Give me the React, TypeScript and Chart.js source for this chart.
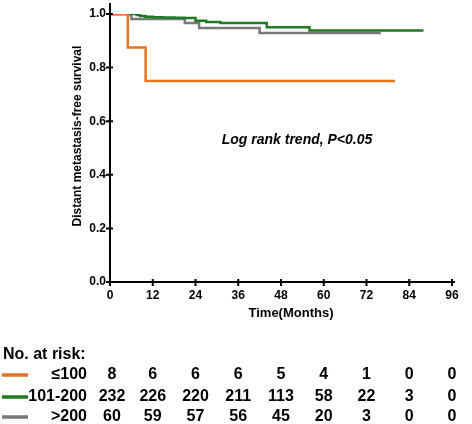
import React, { useEffect, useRef } from "react";
import { Chart, registerables } from "chart.js";

Chart.register(...registerables);

const FONT = "'Liberation Sans', Arial, sans-serif";

const xTicks = [0, 12, 24, 36, 48, 60, 72, 84, 96];
const yTicks = [0, 0.2, 0.4, 0.6, 0.8, 1.0];

const groupLabels = ["≤100", "101-200", ">200"];
const groupColors = ["#E8731F", "#1F7A24", "#787878"];

const lowTimes = [0, 5, 10, 80];
const lowSurv = [1, 0.875, 0.75, 0.75];
const midTimes = [0, 7.5, 8.5, 10, 12, 15, 18, 21, 24, 27, 31, 44, 56, 88];
const midSurv = [1, 0.996, 0.993, 0.99, 0.988, 0.987, 0.986, 0.985, 0.975, 0.97, 0.966, 0.951, 0.938, 0.938];
const highTimes = [0, 6, 21, 25, 42, 76];
const highSurv = [1, 0.981, 0.966, 0.948, 0.929, 0.929];

const riskLow = [8, 6, 6, 6, 5, 4, 1, 0, 0];
const riskMid = [232, 226, 220, 211, 113, 58, 22, 3, 0];
const riskHigh = [60, 59, 57, 56, 45, 20, 3, 0, 0];

const yTitle = "Distant metastasis-free survival";
const xTitle = "Time(Months)";
const annotation = "Log rank trend, P<0.05";
const riskTitle = "No. at risk:";

const toPts = (t: number[], s: number[]) => t.map((v, i) => ({ x: v, y: s[i] }));

const drawPlugin = {
  id: "kmDecor",
  afterDraw(chart: any) {
    const ctx = chart.ctx as CanvasRenderingContext2D;
    const { left, right, top, bottom } = chart.chartArea;
    const xs = chart.scales.x;
    const ys = chart.scales.y;
    ctx.save();
    ctx.strokeStyle = "#000";
    ctx.lineWidth = 2;
    ctx.beginPath();
    ctx.moveTo(left, top - 11);
    ctx.lineTo(left, bottom);
    ctx.moveTo(left - 1, bottom);
    ctx.lineTo(right + 3, bottom);
    xTicks.forEach((v) => {
      const px = xs.getPixelForValue(v);
      ctx.moveTo(px, bottom - 3);
      ctx.lineTo(px, bottom + 4);
    });
    yTicks.forEach((v) => {
      const py = ys.getPixelForValue(v);
      ctx.moveTo(left - 4, py);
      ctx.lineTo(left + 3, py);
    });
    ctx.stroke();

    ctx.fillStyle = "#000";
    // y title
    ctx.save();
    ctx.translate(78, 136);
    ctx.rotate(-Math.PI / 2);
    ctx.font = `bold 12px ${FONT}`;
    ctx.textAlign = "center";
    ctx.textBaseline = "middle";
    ctx.fillText(yTitle, 0, 0);
    ctx.restore();

    // x title
    ctx.font = `bold 13px ${FONT}`;
    ctx.textAlign = "center";
    ctx.textBaseline = "middle";
    ctx.fillText(xTitle, 291, 313);

    // annotation
    ctx.font = `italic bold 14px ${FONT}`;
    ctx.fillText(annotation, 297, 140);

    // risk table
    ctx.font = `bold 16px ${FONT}`;
    ctx.textAlign = "left";
    ctx.fillText(riskTitle, 3, 355);
    const rows = [riskLow, riskMid, riskHigh];
    const rowY = [375, 397, 417];
    rows.forEach((row, r) => {
      const y = rowY[r];
      ctx.strokeStyle = groupColors[r];
      ctx.lineWidth = 3.5;
      ctx.beginPath();
      ctx.moveTo(2, y);
      ctx.lineTo(28, y);
      ctx.stroke();
      ctx.fillStyle = "#000";
      ctx.textAlign = "right";
      ctx.fillText(groupLabels[r], 87, y);
      ctx.textAlign = "center";
      row.forEach((n, i) => {
        ctx.fillText(String(n), xs.getPixelForValue(xTicks[i]) + (i === 0 ? 2 : 0), y);
      });
    });
    ctx.restore();
  },
};

export default function App() {
  const ref = useRef<HTMLCanvasElement>(null);
  useEffect(() => {
    if (!ref.current) return;
    const chart = new Chart(ref.current, {
      type: "line",
      data: {
        datasets: [
          { label: groupLabels[0], data: toPts(lowTimes, lowSurv), borderColor: groupColors[0], order: 0 },
          { label: groupLabels[1], data: toPts(midTimes, midSurv), borderColor: groupColors[1], order: 1 },
          { label: groupLabels[2], data: toPts(highTimes, highSurv), borderColor: groupColors[2], order: 2 },
        ].map((d) => ({ ...d, stepped: "before" as const, borderWidth: 2.5, pointRadius: 0, fill: false, tension: 0 })),
      },
      options: {
        responsive: false,
        animation: false,
        layout: { padding: { top: 14, right: 20, bottom: 102, left: 0 } },
        plugins: { legend: { display: false }, tooltip: { enabled: false } },
        scales: {
          x: {
            type: "linear",
            min: 0,
            max: 96,
            afterBuildTicks: (s: any) => {
              s.ticks = xTicks.map((v) => ({ value: v }));
            },
            afterFit: (s: any) => {
              s.height = 40;
            },
            grid: { display: true, drawOnChartArea: false, color: "rgba(0,0,0,0)", tickLength: 4 },
            border: { display: false },
            ticks: { color: "#000", font: { family: FONT, size: 12, weight: "bold" }, padding: 2, maxRotation: 0, autoSkip: false },
          },
          y: {
            type: "linear",
            min: 0,
            max: 1,
            afterBuildTicks: (s: any) => {
              s.ticks = yTicks.map((v) => ({ value: v }));
            },
            afterFit: (s: any) => {
              s.width = 110;
            },
            grid: { display: true, drawOnChartArea: false, color: "rgba(0,0,0,0)", tickLength: 3 },
            border: { display: false },
            ticks: {
              color: "#000",
              font: { family: FONT, size: 12, weight: "bold" },
              padding: 1,
              autoSkip: false,
              callback: (v: any) => Number(v).toFixed(1),
            },
          },
        },
      } as any,
      plugins: [drawPlugin],
    });
    return () => chart.destroy();
  }, []);
  return (
    <div style={{ position: "absolute", left: 0, top: 0, width: 472, height: 424, background: "#fff" }}>
      <canvas ref={ref} width={472} height={424} style={{ display: "block" }} />
    </div>
  );
}
